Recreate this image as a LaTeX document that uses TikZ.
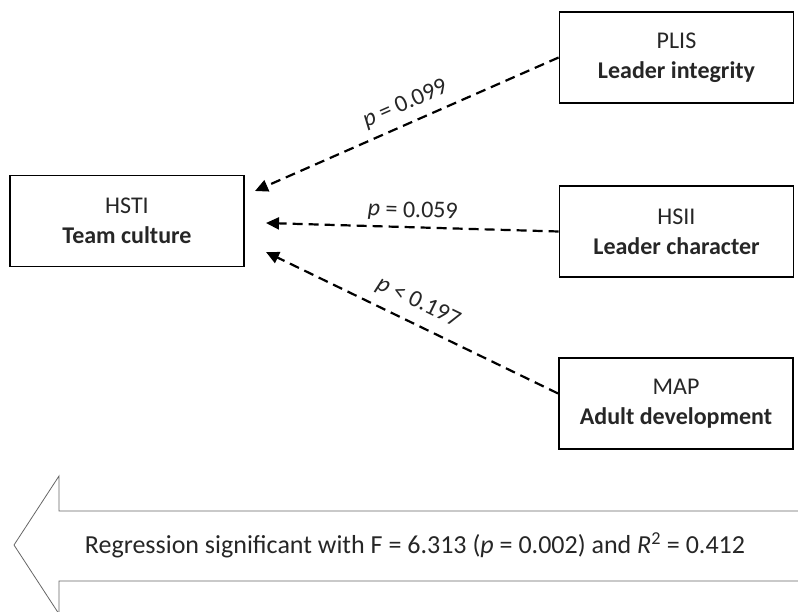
\documentclass[tikz,border=0pt]{standalone}
\usepackage{fontspec}
\setmainfont{Carlito}
\usetikzlibrary{arrows.meta}
\begin{document}
\begin{tikzpicture}[x=1pt,y=-1pt,
  box/.style={draw=black,line width=1.8pt,minimum width=234pt,minimum height=91pt,inner sep=0pt,align=center,font=\fontsize{24}{30}\selectfont,text=black!85},
  link/.style={line width=2.2pt,dash pattern=on 10pt off 6pt,-{Triangle[length=13pt,width=12pt]}},
  plab/.style={font=\fontsize{24}{26}\selectfont,text=black!85,inner sep=1pt}]
\useasboundingbox (0,0) rectangle (798,612);
\clip (0,0) rectangle (798,612);
\node[box] (hsti) at (127,221) {HSTI\\\bfseries Team culture};
\node[box] (plis) at (676.5,57.5) {PLIS\\\bfseries Leader integrity};
\node[box] (hsii) at (676.5,231.5) {HSII\\\bfseries Leader character};
\node[box] (map) at (676,403.5) {MAP\\\bfseries Adult development};
\coordinate (t1) at (255,191);
\coordinate (t2) at (266,223);
\coordinate (t3) at (266,252);
\draw[link] (plis.west) -- node[plab,sloped,above=7pt,pos=0.48]{\textit{p} = 0.099} (t1);
\draw[link] (hsii.west) -- node[plab,sloped,above=4pt,pos=0.5]{\textit{p} = 0.059} (t2);
\draw[link] ([yshift=10pt]map.west) -- node[plab,sloped,above=9pt,pos=0.51]{\textit{p} < 0.197} (t3);
\draw[line width=0.8pt,draw=black!60] (810,511) -- (59,511) -- (59,476) -- (14,545) -- (59,614) -- (59,581) -- (810,581);
\node[font=\fontsize{26}{28}\selectfont,text=black!85] (reg) at (415,545) {Regression significant with F = 6.313 (\textit{p} = 0.002) and \textit{R}\textsuperscript{2} = 0.412};
\end{tikzpicture}
\end{document}
